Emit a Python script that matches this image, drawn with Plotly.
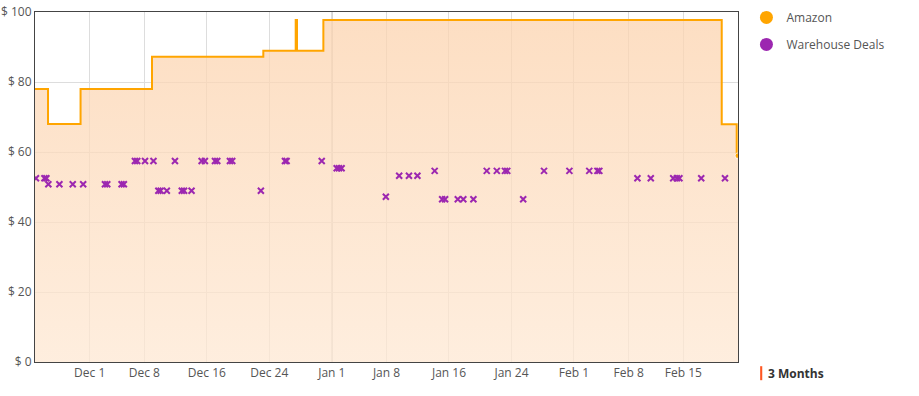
import plotly.graph_objects as go

# ---- data ----
amazon_dates = ["2023-11-24 00:00", "2023-11-25 16:00", "2023-11-29 20:00", "2023-12-08 23:30",
                "2023-12-23 05:30", "2023-12-27 09:00", "2023-12-27 13:00", "2023-12-30 22:00",
                "2024-02-19 22:00", "2024-02-21 20:00", "2024-02-22 00:00"]
amazon_prices = [78, 68, 78, 87.2, 88.9, 97.7, 88.9, 97.7, 67.9, 58.9, 58.9]

deal_dates = [
    "2023-11-24 03:00", "2023-11-25 05:00", "2023-11-25 11:00", "2023-11-25 17:00",
    "2023-11-27 03:00", "2023-11-28 20:00", "2023-11-30 04:00", "2023-12-02 23:00",
    "2023-12-03 06:00", "2023-12-05 02:00", "2023-12-05 09:00", "2023-12-06 19:00",
    "2023-12-07 02:00", "2023-12-08 02:00", "2023-12-09 04:00", "2023-12-09 19:00",
    "2023-12-10 02:00", "2023-12-10 21:00", "2023-12-11 22:00", "2023-12-12 19:00",
    "2023-12-13 02:00", "2023-12-14 01:00", "2023-12-15 08:00", "2023-12-15 18:00",
    "2023-12-17 01:00", "2023-12-17 08:00", "2023-12-18 23:00", "2023-12-19 06:00",
    "2023-12-22 22:00", "2023-12-26 00:00", "2023-12-26 05:00", "2023-12-30 17:00",
    "2024-01-01 15:00", "2024-01-01 22:00", "2024-01-02 06:00", "2024-01-07 22:00",
    "2024-01-09 15:00", "2024-01-10 21:00", "2024-01-11 23:00", "2024-01-14 04:00",
    "2024-01-15 03:00", "2024-01-15 12:00", "2024-01-17 03:00", "2024-01-17 20:00",
    "2024-01-19 03:00", "2024-01-20 20:00", "2024-01-22 03:00", "2024-01-23 04:00",
    "2024-01-23 11:00", "2024-01-25 12:00", "2024-01-28 04:00", "2024-01-31 10:00",
    "2024-02-02 23:00", "2024-02-04 00:00", "2024-02-04 06:00", "2024-02-09 03:00",
    "2024-02-10 20:00", "2024-02-13 17:00", "2024-02-14 04:00", "2024-02-14 12:00",
    "2024-02-17 07:00", "2024-02-20 08:00",
]
deal_prices = [
    52.49, 52.49, 52.49, 50.8,
    50.8, 50.8, 50.8, 50.8,
    50.8, 50.8, 50.8, 57.45,
    57.45, 57.45, 57.45, 48.95,
    48.95, 48.95, 57.45, 48.95,
    48.95, 48.95, 57.45, 57.45,
    57.45, 57.45, 57.45, 57.45,
    48.95, 57.45, 57.45, 57.45,
    55.35, 55.35, 55.35, 47.2,
    53.2, 53.2, 53.2, 54.6,
    46.5, 46.5, 46.5, 46.5,
    46.5, 54.6, 54.6, 54.6,
    54.6, 46.5, 54.6, 54.6,
    54.6, 54.6, 54.6, 52.49,
    52.49, 52.49, 52.49, 52.49,
    52.49, 52.49,
]

x_tick_vals = ["2023-12-01", "2023-12-08", "2023-12-16", "2023-12-24", "2024-01-01", "2024-01-08",
               "2024-01-16", "2024-01-24", "2024-02-01", "2024-02-08", "2024-02-15"]
x_tick_text = ["Dec 1", "Dec 8", "Dec 16", "Dec 24", "Jan 1", "Jan 8",
               "Jan 16", "Jan 24", "Feb 1", "Feb 8", "Feb 15"]
x_range = ["2023-11-24", "2024-02-22"]
year_boundary = "2024-01-01"

ORANGE = "#ffa500"
PURPLE = "#9c27b0"
FONT = "Open Sans, Noto Sans, sans-serif"

fig = go.Figure()

marker_sizes = [0] * (len(amazon_dates) - 1) + [6]
fig.add_trace(go.Scatter(
    x=amazon_dates, y=amazon_prices, mode="lines+markers",
    line=dict(color=ORANGE, width=2, shape="hv"),
    marker=dict(size=marker_sizes, color=ORANGE),
    fill="tozeroy",
    fillgradient=dict(type="vertical", start=0, stop=100,
                      colorscale=[[0, "rgba(254,232,211,0.75)"], [1, "rgba(252,211,174,0.75)"]]),
    showlegend=False, hoverinfo="skip",
))

fig.add_trace(go.Scatter(
    x=deal_dates, y=deal_prices, mode="markers",
    marker=dict(symbol="x-thin", size=6, color=PURPLE, line=dict(color=PURPLE, width=2)),
    showlegend=False,
))

# legend entries
fig.add_trace(go.Scatter(x=[None], y=[None], mode="markers", name="Amazon", legendgroup="a",
                         marker=dict(symbol="circle", size=13, color=ORANGE)))
fig.add_trace(go.Scatter(x=[None], y=[None], mode="markers", name="Warehouse Deals", legendgroup="w",
                         marker=dict(symbol="circle", size=13, color=PURPLE)))

fig.add_shape(type="line", x0=year_boundary, x1=year_boundary, y0=0, y1=1, xref="x", yref="paper",
              line=dict(color="#b5b5b5", width=1.5), layer="below")

# "3 Months" range label
fig.add_shape(type="rect", xref="paper", yref="paper", x0=1.0315, x1=1.0345, y0=-0.012, y1=-0.052,
              fillcolor="#ff5722", line=dict(width=0))
fig.add_annotation(text="<b>3 Months</b>", xref="paper", yref="paper", x=1.04, y=-0.032,
                   xanchor="left", yanchor="middle", showarrow=False,
                   font=dict(family=FONT, size=12, color="#333333"))

fig.update_layout(
    width=919, height=396,
    margin=dict(l=35, r=181, t=12, b=34, autoexpand=False),
    paper_bgcolor="white", plot_bgcolor="white",
    font=dict(family=FONT, size=12, color="#555555"),
    legend=dict(x=1.012, y=1.026, xanchor="left", yanchor="top", tracegroupgap=8,
                font=dict(size=12, color="#555555"), bgcolor="rgba(0,0,0,0)"),
    hovermode="closest",
)
fig.update_xaxes(range=x_range, tickvals=x_tick_vals, ticktext=x_tick_text,
                 showgrid=True, gridcolor="#dddddd", gridwidth=1,
                 showline=True, linecolor="#444444", linewidth=1, mirror=True, automargin=False,
                 ticks="", tickfont=dict(size=12, color="#555555"), zeroline=False)
fig.update_yaxes(range=[0, 100], dtick=20, tickprefix="$ ",
                 showgrid=True, gridcolor="#dddddd", gridwidth=1,
                 showline=True, linecolor="#444444", linewidth=1, mirror=True, automargin=False,
                 ticks="", tickfont=dict(size=12, color="#555555"), zeroline=False)

# remove the page's default body margin so the figure sits at the window's top-left corner
fig.write_html("out.html", config={"displayModeBar": False},
               post_script="document.body.style.margin='0';")
